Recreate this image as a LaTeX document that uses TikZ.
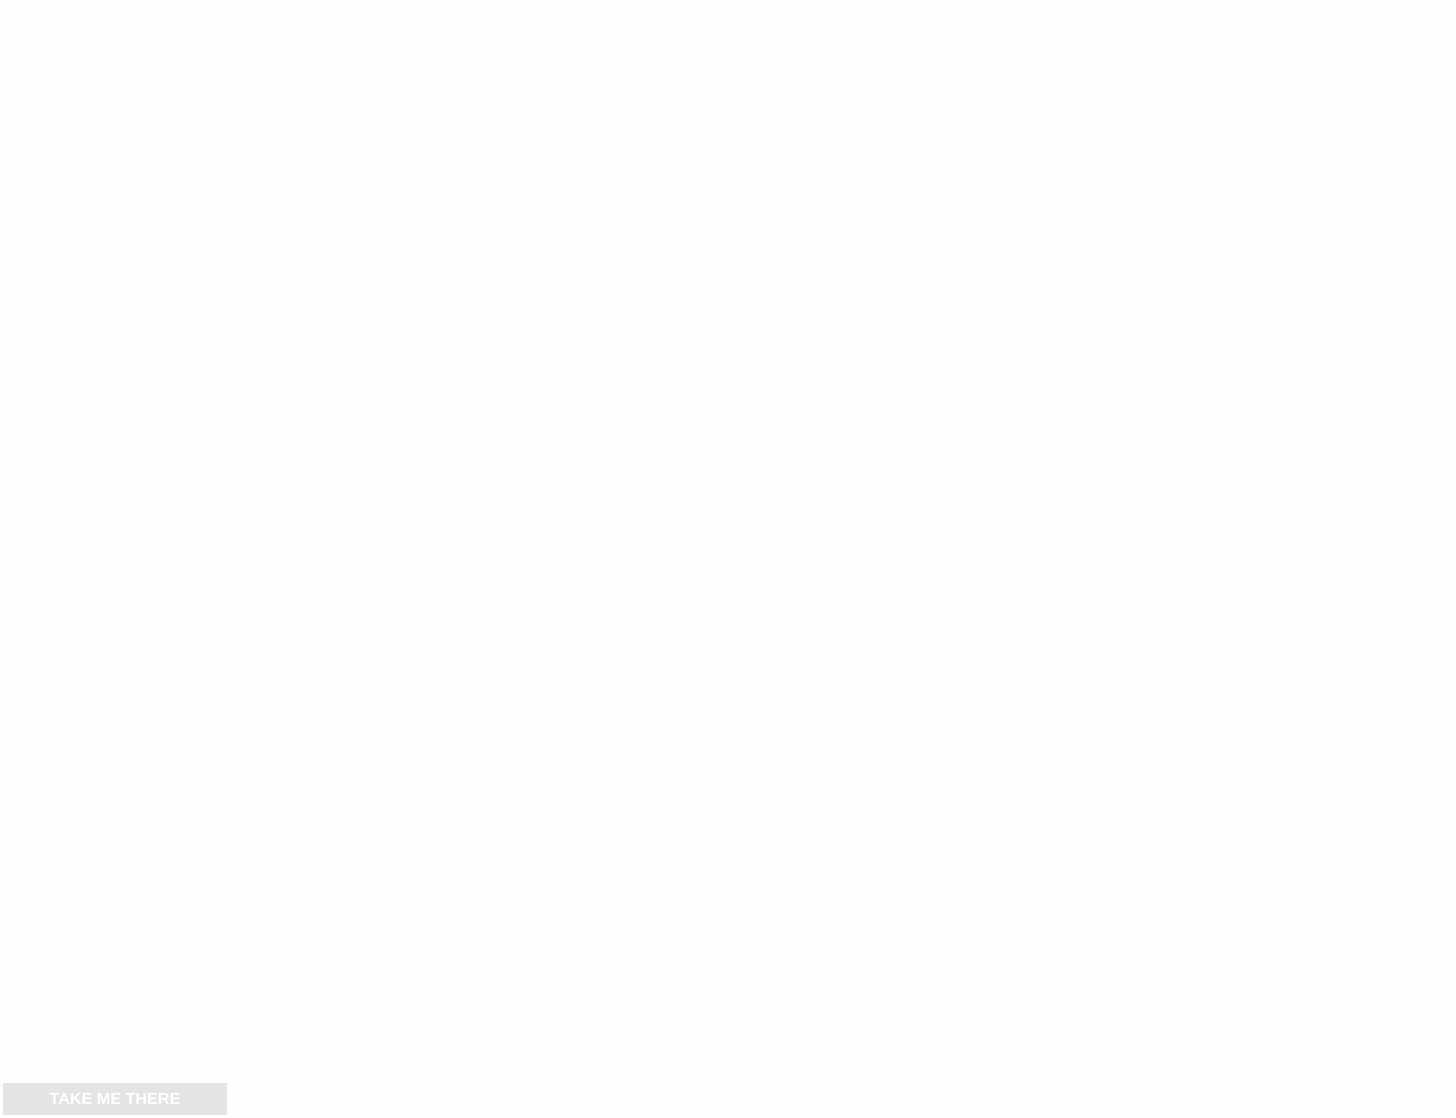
\documentclass[tikz,border=0pt]{standalone}
\usepackage{fontspec}
\setmainfont{Liberation Sans}
\usetikzlibrary{positioning}
\definecolor{btngrey}{HTML}{E4E4E4}
\definecolor{pagebg}{HTML}{FEFEFE}

\tikzstyle{button} = [fill=btngrey, rectangle, inner sep=0pt,
    minimum height=32*0.02cm, minimum width=224*0.02cm,
    text=white, font=\fontsize{9.2}{11}\selectfont\bfseries]

\begin{document}
\begin{tikzpicture}[x=0.02cm, y=-0.02cm]
    \fill [pagebg] (0,0) rectangle (1456,1118);
    \useasboundingbox (0,0) rectangle (1456,1118);
    \node [button] (takeme) at (115,1099) {TAKE ME THERE};
\end{tikzpicture}
\end{document}
